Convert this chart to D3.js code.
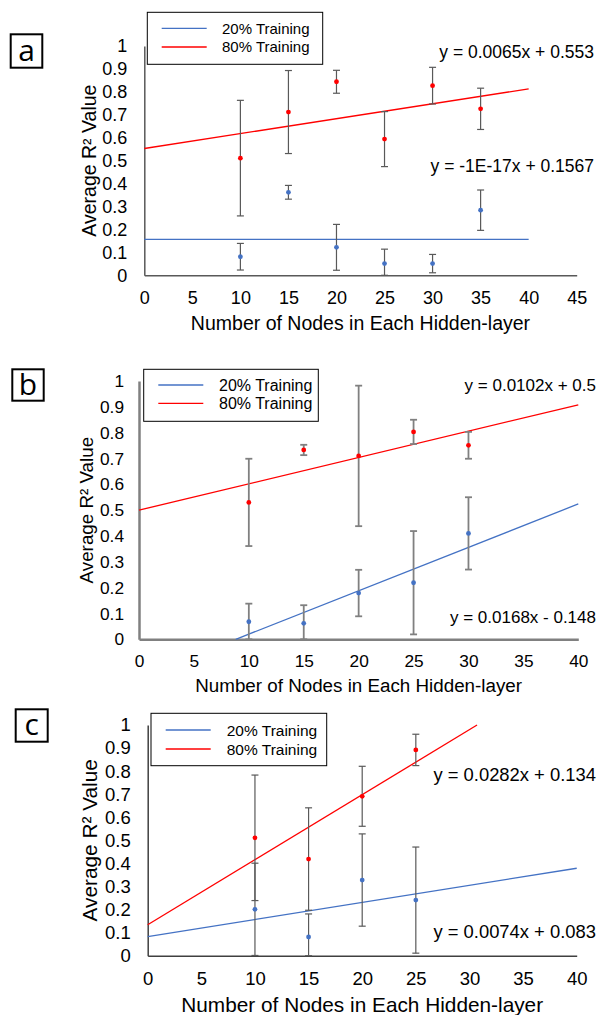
<!DOCTYPE html>
<html><head><meta charset="utf-8">
<script src="https://cdn.jsdelivr.net/npm/d3@7"></script>
<style>
html,body{margin:0;padding:0;background:#fff;}
svg{display:block;font-family:"Liberation Sans",Arial,sans-serif;}
</style></head>
<body><svg id="chart" width="600" height="1015"></svg>
<script>
// ---------- DATA ----------
const seriesNames = ["20% Training", "80% Training"];
const panelLetters = ["a", "b", "c"];
const yTicks = [0, 0.1, 0.2, 0.3, 0.4, 0.5, 0.6, 0.7, 0.8, 0.9, 1];
const xTicksA = [0, 5, 10, 15, 20, 25, 30, 35, 40, 45];
const xTicksBC = [0, 5, 10, 15, 20, 25, 30, 35, 40];

// panel a
const aNodes = [10, 15, 20, 25, 30, 35];
const a20Mean = [0.081, 0.362, 0.122, 0.051, 0.051, 0.284];
const a20Err = [0.058, 0.030, 0.100, 0.063, 0.040, 0.088];
const a80Mean = [0.511, 0.712, 0.844, 0.594, 0.827, 0.726];
const a80Err = [0.252, 0.181, 0.050, 0.120, 0.080, 0.090];
const aFit20 = [-1e-17, 0.1567];
const aFit80 = [0.0065, 0.553];
const aEq20 = "y = -1E-17x + 0.1567";
const aEq80 = "y = 0.0065x + 0.553";

// panel b
const bNodes = [10, 15, 20, 25, 30];
const b20Mean = [0.068, 0.062, 0.179, 0.219, 0.410];
const b20Err = [0.070, 0.070, 0.090, 0.200, 0.140];
const b80Mean = [0.530, 0.733, 0.710, 0.803, 0.751];
const b80Err = [0.169, 0.020, 0.272, 0.047, 0.052];
const bFit20 = [0.0168, -0.148];
const bFit80 = [0.0102, 0.5];
const bEq20 = "y = 0.0168x - 0.148";
const bEq80 = "y = 0.0102x + 0.5";

// panel c
const cNodes = [10, 15, 20, 25];
const c20Mean = [0.201, 0.081, 0.328, 0.241];
const c20Err = [0.200, 0.100, 0.200, 0.230];
const c80Mean = [0.511, 0.419, 0.691, 0.892];
const c80Err = [0.272, 0.222, 0.130, 0.068];
const cFit20 = [0.0074, 0.083];
const cFit80 = [0.0282, 0.134];
const cEq20 = "y = 0.0074x + 0.083";
const cEq80 = "y = 0.0282x + 0.134";

const xTitle = "Number of Nodes in Each Hidden-layer";
const yTitle = "Average R² Value";

// ---------- LAYOUT / STYLE ----------
const BLUE = "#4472C4", RED = "#FF0000";
const panels = [
  {letter: panelLetters[0], nodes: aNodes, m20: a20Mean, e20: a20Err, m80: a80Mean, e80: a80Err,
   f20: aFit20, f80: aFit80, eq20: aEq20, eq80: aEq80, xTicks: xTicksA, xMax: 45, fitMax: 40,
   x0: 144.3, x1: 576.7, yb: 275.3, yt: 46, axisColor: "#595959", axisW: 1.5, errColor: "#595959", errW: 1.2,
   tickFs: 18, titleFs: 19.5, eqFs: 17.5, legFs: 15,
   eq80Pos: [594, 58.3], eq20Pos: [594, 171.7],
   box: [10.7, 34.3, 31.6, 33.4], leg: [147.3, 12.3, 175.4, 52, 28.3, 47, 161.7, 206.7, 222],
   yLabRight: 17, xLabBase: 29, xTitleBase: 330, yTitleX: 95.7},
  {letter: panelLetters[1], nodes: bNodes, m20: b20Mean, e20: b20Err, m80: b80Mean, e80: b80Err,
   f20: bFit20, f80: bFit80, eq20: bEq20, eq80: bEq80, xTicks: xTicksBC, xMax: 40, fitMax: 40,
   x0: 139, x1: 578.3, yb: 639.3, yt: 381, axisColor: "#808080", axisW: 2.5, errColor: "#808080", errW: 1.8,
   tickFs: 17.3, titleFs: 18.8, eqFs: 17, legFs: 16,
   eq80Pos: [596, 390.7], eq20Pos: [596, 623.3],
   box: [12.3, 369.3, 31.4, 31.4], leg: [143.7, 369.3, 174.6, 52, 385, 403.3, 158.3, 203.3, 219],
   yLabRight: 15, xLabBase: 28, xTitleBase: 691.7, yTitleX: 93.2},
  {letter: panelLetters[2], nodes: cNodes, m20: c20Mean, e20: c20Err, m80: c80Mean, e80: c80Err,
   f20: cFit20, f80: cFit80, eq20: cEq20, eq80: cEq80, xTicks: xTicksBC, xMax: 40, fitMax: 40,
   x0: 147.7, x1: 576.7, yb: 955.7, yt: 725, axisColor: "#404040", axisW: 1.5, errColor: "#595959", errW: 1.2,
   tickFs: 18.5, titleFs: 20.8, eqFs: 18.4, legFs: 15.5,
   eq80Pos: [596, 781], eq20Pos: [596, 938.3],
   box: [15.7, 709.3, 32, 32.4], leg: [151, 713.3, 175.7, 52.4, 730, 749, 165.7, 210.7, 226.7],
   yLabRight: 17, xLabBase: 29, xTitleBase: 1011.7, yTitleX: 96.5}
];

const svg = d3.select("#chart");

panels.forEach(p => {
  const g = svg.append("g");
  const x = d3.scaleLinear().domain([0, p.xMax]).range([p.x0, p.x1]);
  const y = d3.scaleLinear().domain([0, 1]).range([p.yb, p.yt]);

  // y axis
  const yAx = g.append("g").attr("transform", `translate(${p.x0},0)`)
    .call(d3.axisLeft(y).tickValues(yTicks).tickFormat(d3.format("~g")).tickSize(0).tickPadding(p.yLabRight));
  yAx.select(".domain").attr("stroke", p.axisColor).attr("stroke-width", p.axisW);
  yAx.selectAll("text").attr("font-size", p.tickFs).attr("fill", "#000").attr("font-family", "Liberation Sans, Arial, sans-serif");

  // x axis
  const pad = p.xLabBase - 0.71 * p.tickFs;
  const xAx = g.append("g").attr("transform", `translate(0,${p.yb})`)
    .call(d3.axisBottom(x).tickValues(p.xTicks).tickFormat(d3.format("d")).tickSize(0).tickPadding(pad));
  xAx.select(".domain").attr("stroke", p.axisColor).attr("stroke-width", p.axisW);
  xAx.selectAll("text").attr("font-size", p.tickFs).attr("fill", "#000").attr("font-family", "Liberation Sans, Arial, sans-serif");

  // titles
  g.append("text").attr("x", (p.x0 + p.x1) / 2).attr("y", p.xTitleBase)
    .attr("text-anchor", "middle").attr("font-size", p.titleFs).text(xTitle);
  g.append("text").attr("transform", `translate(${p.yTitleX},${(p.yb + p.yt) / 2}) rotate(-90)`)
    .attr("text-anchor", "middle").attr("font-size", p.titleFs).text(yTitle);

  // trend lines
  function fitSeg(f) {
    const [m, b] = f;
    let xa = 0, xb = p.fitMax;
    if (Math.abs(m) > 1e-9) {
      const xz = (0 - b) / m, xo = (1 - b) / m;
      const lo = Math.min(xz, xo), hi = Math.max(xz, xo);
      xa = Math.max(xa, lo); xb = Math.min(xb, hi);
    }
    return [[xa, m * xa + b], [xb, m * xb + b]];
  }
  const line = d3.line().x(d => x(d[0])).y(d => y(d[1]));
  g.append("path").attr("d", line(fitSeg(p.f20))).attr("stroke", BLUE).attr("stroke-width", 1.3).attr("fill", "none");
  g.append("path").attr("d", line(fitSeg(p.f80))).attr("stroke", RED).attr("stroke-width", 1.3).attr("fill", "none");

  // error bars + points
  function series(means, errs, color) {
    const data = p.nodes.map((n, i) => ({n, m: means[i], e: errs[i]}));
    const eg = g.append("g");
    data.forEach(d => {
      const lo = Math.max(0, d.m - d.e), hi = Math.min(1, d.m + d.e);
      eg.append("line").attr("x1", x(d.n)).attr("x2", x(d.n)).attr("y1", y(lo)).attr("y2", y(hi))
        .attr("stroke", p.errColor).attr("stroke-width", p.errW);
      [lo, hi].forEach(v => {
        eg.append("line").attr("x1", x(d.n) - 3.5).attr("x2", x(d.n) + 3.5).attr("y1", y(v)).attr("y2", y(v))
          .attr("stroke", p.errColor).attr("stroke-width", p.errW);
      });
    });
    g.append("g").selectAll("circle").data(data).join("circle")
      .attr("cx", d => x(d.n)).attr("cy", d => y(d.m)).attr("r", 2.4).attr("fill", color);
  }
  series(p.m20, p.e20, BLUE);
  series(p.m80, p.e80, RED);

  // equations
  g.append("text").attr("x", p.eq80Pos[0]).attr("y", p.eq80Pos[1]).attr("text-anchor", "end")
    .attr("font-size", p.eqFs).text(p.eq80);
  g.append("text").attr("x", p.eq20Pos[0]).attr("y", p.eq20Pos[1]).attr("text-anchor", "end")
    .attr("font-size", p.eqFs).text(p.eq20);

  // legend
  const [lx, ly, lw, lh, l1y, l2y, lxa, lxb, ltx] = p.leg;
  g.append("rect").attr("x", lx).attr("y", ly).attr("width", lw).attr("height", lh)
    .attr("fill", "#fff").attr("stroke", "#000").attr("stroke-width", 1);
  [[l1y, BLUE, seriesNames[0]], [l2y, RED, seriesNames[1]]].forEach(([yy, c, t]) => {
    g.append("line").attr("x1", lxa).attr("x2", lxb).attr("y1", yy).attr("y2", yy).attr("stroke", c).attr("stroke-width", 1.3);
    g.append("text").attr("x", ltx).attr("y", yy).attr("dy", "0.36em").attr("font-size", p.legFs).text(t);
  });

  // panel letter
  const [bx, by, bw, bh] = p.box;
  g.append("rect").attr("x", bx).attr("y", by).attr("width", bw).attr("height", bh)
    .attr("fill", "#fff").attr("stroke", "#000").attr("stroke-width", 2);
  g.append("text").attr("x", bx + bw / 2).attr("y", by + bh / 2).attr("dy", "0.33em")
    .attr("text-anchor", "middle").attr("font-family", "Open Sans, sans-serif").attr("font-size", 30).text(p.letter);
});
</script></body></html>
